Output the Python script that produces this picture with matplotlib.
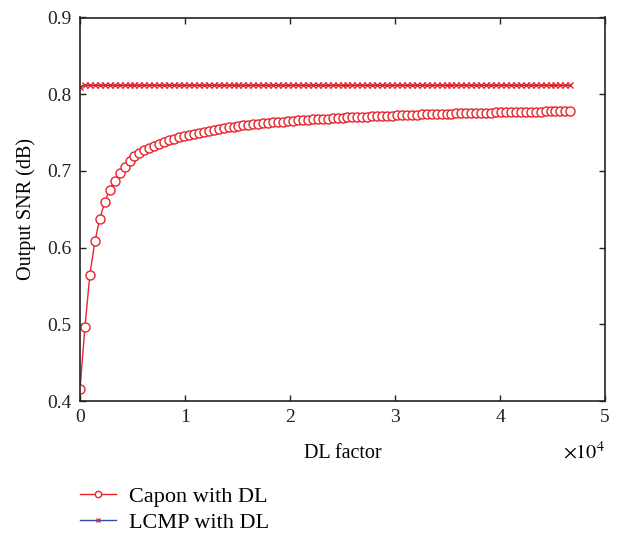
import matplotlib
matplotlib.use("Agg")
import matplotlib.pyplot as plt
import numpy as np

plt.rcParams['font.family'] = ['Liberation Serif', 'DejaVu Serif']
plt.rcParams['mathtext.fontset'] = 'stix'

# DL factor grid (100 points, 0 .. 46700)
dl_factor = np.linspace(0, 46700, 100)

capon_snr = [
    0.4152, 0.4969, 0.5647, 0.6082, 0.6377, 0.6595, 0.6751, 0.6868, 0.6969, 0.7055,
    0.7125, 0.7194, 0.7232, 0.7268, 0.7300, 0.7329, 0.7355, 0.7379, 0.7401, 0.7421,
    0.7439, 0.7456, 0.7472, 0.7487, 0.7500, 0.7513, 0.7525, 0.7536, 0.7547, 0.7557,
    0.7566, 0.7575, 0.7584, 0.7592, 0.7599, 0.7606, 0.7613, 0.7620, 0.7626, 0.7632,
    0.7638, 0.7643, 0.7648, 0.7653, 0.7658, 0.7663, 0.7667, 0.7671, 0.7675, 0.7679,
    0.7683, 0.7687, 0.7690, 0.7694, 0.7697, 0.7700, 0.7703, 0.7706, 0.7709, 0.7712,
    0.7715, 0.7717, 0.7720, 0.7722, 0.7725, 0.7727, 0.7729, 0.7732, 0.7734, 0.7736,
    0.7738, 0.7740, 0.7742, 0.7744, 0.7746, 0.7747, 0.7749, 0.7751, 0.7753, 0.7754,
    0.7756, 0.7757, 0.7759, 0.7760, 0.7762, 0.7763, 0.7765, 0.7766, 0.7767, 0.7769,
    0.7770, 0.7771, 0.7772, 0.7773, 0.7775, 0.7776, 0.7777, 0.7778, 0.7779, 0.7780,
]

lcmp_snr = [0.8090] + [0.8116] * 99

xtick_vals = [0, 10000, 20000, 30000, 40000, 50000]
xtick_labels = ['0', '1', '2', '3', '4', '5']
ytick_vals = [0.4, 0.5, 0.6, 0.7, 0.8, 0.9]
ytick_labels = ['0.4', '0.5', '0.6', '0.7', '0.8', '0.9']

RED = '#e8232b'
BLUE = '#2b4fa6'

fig = plt.figure(figsize=(6.22, 5.34), dpi=100)
ax = fig.add_axes([80 / 622, 1 - 401 / 534, 525 / 622, (401 - 17.5) / 534])

l1, = ax.plot(dl_factor, capon_snr, color=RED, lw=1.0, marker='o', markersize=6.5,
              markerfacecolor='white', markeredgecolor=RED, markeredgewidth=1.0,
              label='Capon with DL')
l2, = ax.plot(dl_factor, lcmp_snr, color=BLUE, lw=1.0, marker='x', markersize=4,
              markeredgecolor=RED, markeredgewidth=1.0, label='LCMP with DL')

ax.set_xlim(0, 50000)
ax.set_ylim(0.4, 0.9)
ax.set_xticks(xtick_vals)
ax.set_xticklabels(xtick_labels)
ax.set_yticks(ytick_vals)
ax.set_yticklabels(ytick_labels)
ax.tick_params(direction='in', top=True, right=True, length=4, width=1,
               labelsize=14, pad=6, colors='#222222')
for s in ax.spines.values():
    s.set_linewidth(1.2)
    s.set_color('#222222')

ax.set_xlabel('DL factor', fontsize=14.5, labelpad=13)
ax.set_ylabel('Output SNR (dB)', fontsize=14.5, labelpad=8)
ax.text(1.0, -0.105, r'$\times 10^{4}$', transform=ax.transAxes, ha='right', va='top',
        fontsize=14.5)

fig.legend(handles=[l1, l2], loc='upper left', bbox_to_anchor=(80 / 622, 1 - 486 / 534),
           frameon=False, fontsize=16, handlelength=1.6, labelspacing=0.25,
           handletextpad=0.6, borderpad=0.0, borderaxespad=0.0, markerscale=0.7)

fig.savefig('out.png', dpi=100)
